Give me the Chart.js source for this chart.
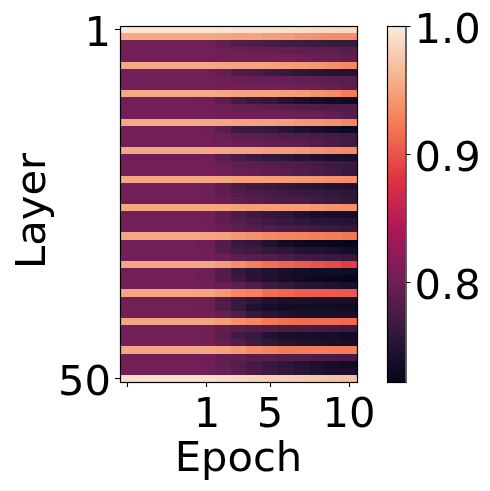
<!DOCTYPE html>
<html>
<head>
<meta charset="utf-8">
<style>
  html, body { margin: 0; padding: 0; background: #fff; }
  canvas { position: absolute; left: 0; top: 0; }
</style>
<script src="https://cdn.jsdelivr.net/npm/chart.js@4"></script>
</head>
<body>
<canvas id="heat" width="490" height="491"></canvas>
<canvas id="bar" width="490" height="491"></canvas>
<script>
const layerLabels = ["1", "50"];
const layerTickRows = [0, 49];
const epochLabels = ["", "1", "5", "10"];
const epochTickCols = [0, 5, 9, 14];
const colorbarTicks = [0.8, 0.9, 1.0];
const colorMin = 0.722;
const colorMax = 1.0;

// one row per layer, one value per column
const heatValues = [
  [.997,.997,.997,.997,.997,.997,.996,.995,.995,.993,.992,.990,.989,.988,.987],
  [.953,.953,.953,.953,.953,.953,.952,.948,.950,.947,.945,.940,.938,.936,.935],
  [.803,.803,.803,.803,.803,.803,.793,.782,.780,.775,.772,.770,.767,.765,.765],
  [.803,.803,.803,.803,.803,.803,.800,.797,.795,.795,.793,.792,.790,.788,.785],
  [.803,.803,.803,.804,.804,.804,.804,.803,.803,.803,.802,.800,.798,.795,.790],
  [.953,.953,.953,.953,.953,.953,.952,.950,.950,.948,.947,.945,.942,.938,.932],
  [.803,.803,.803,.803,.803,.803,.793,.780,.775,.770,.762,.755,.752,.750,.748],
  [.803,.803,.803,.803,.803,.803,.800,.797,.796,.795,.793,.792,.790,.788,.785],
  [.803,.803,.803,.804,.804,.804,.804,.805,.803,.802,.802,.800,.797,.793,.787],
  [.953,.953,.953,.953,.953,.953,.952,.950,.950,.948,.946,.944,.940,.935,.925],
  [.803,.803,.803,.803,.803,.800,.787,.772,.765,.760,.750,.742,.738,.735,.733],
  [.803,.803,.803,.803,.803,.803,.799,.795,.793,.790,.788,.785,.783,.781,.780],
  [.804,.804,.804,.804,.804,.804,.804,.804,.804,.802,.800,.797,.795,.790,.785],
  [.953,.953,.953,.953,.953,.953,.952,.950,.949,.948,.946,.943,.941,.938,.932],
  [.803,.803,.803,.803,.803,.800,.787,.767,.765,.760,.752,.745,.740,.733,.730],
  [.803,.803,.803,.803,.803,.803,.797,.791,.788,.785,.782,.780,.776,.773,.770],
  [.804,.804,.804,.804,.804,.804,.801,.797,.795,.792,.790,.787,.783,.776,.770],
  [.952,.952,.952,.952,.952,.952,.951,.949,.948,.946,.945,.943,.940,.936,.933],
  [.802,.802,.802,.802,.802,.800,.787,.774,.766,.760,.755,.750,.745,.742,.740],
  [.802,.802,.802,.802,.802,.802,.797,.790,.787,.784,.780,.777,.773,.768,.765],
  [.804,.804,.804,.804,.804,.804,.801,.796,.793,.789,.785,.780,.775,.770,.762],
  [.952,.952,.952,.952,.952,.952,.951,.948,.947,.946,.945,.943,.941,.938,.935],
  [.802,.802,.802,.802,.802,.800,.788,.776,.770,.765,.760,.755,.751,.748,.745],
  [.802,.802,.802,.802,.802,.801,.791,.782,.778,.773,.770,.766,.763,.758,.755],
  [.803,.803,.803,.803,.803,.803,.798,.790,.785,.780,.778,.775,.770,.766,.760],
  [.952,.952,.952,.952,.952,.952,.951,.948,.947,.946,.945,.944,.942,.940,.938],
  [.802,.802,.802,.802,.802,.801,.788,.776,.768,.760,.755,.745,.740,.738,.735],
  [.802,.802,.802,.802,.802,.801,.790,.782,.775,.768,.762,.757,.754,.752,.750],
  [.803,.803,.803,.803,.803,.803,.798,.790,.785,.780,.776,.772,.768,.764,.760],
  [.952,.952,.952,.952,.952,.951,.948,.942,.937,.933,.930,.928,.926,.925,.920],
  [.802,.802,.802,.802,.802,.799,.783,.762,.758,.745,.735,.730,.727,.725,.723],
  [.802,.802,.802,.802,.802,.800,.786,.772,.768,.760,.755,.748,.745,.741,.738],
  [.803,.803,.803,.803,.803,.803,.797,.790,.785,.780,.775,.770,.768,.765,.760],
  [.951,.951,.951,.951,.951,.951,.945,.935,.927,.918,.910,.905,.900,.895,.885],
  [.802,.802,.802,.802,.802,.799,.783,.760,.752,.745,.740,.736,.735,.735,.734],
  [.802,.802,.802,.802,.802,.799,.782,.768,.752,.745,.738,.733,.730,.727,.724],
  [.803,.803,.803,.803,.803,.802,.796,.790,.780,.768,.760,.752,.750,.745,.741],
  [.951,.951,.951,.951,.951,.950,.943,.932,.928,.916,.911,.907,.905,.904,.903],
  [.802,.802,.802,.802,.802,.799,.780,.763,.756,.745,.741,.741,.740,.740,.739],
  [.802,.802,.802,.802,.802,.799,.780,.762,.747,.739,.735,.733,.733,.733,.732],
  [.803,.803,.803,.803,.803,.802,.794,.782,.762,.752,.746,.742,.741,.741,.740],
  [.951,.951,.951,.951,.951,.951,.947,.937,.932,.922,.917,.915,.915,.915,.913],
  [.802,.802,.802,.802,.802,.800,.790,.785,.782,.780,.778,.776,.774,.771,.768],
  [.802,.802,.802,.802,.802,.800,.788,.770,.762,.748,.742,.739,.738,.737,.733],
  [.803,.803,.803,.803,.803,.802,.793,.782,.767,.757,.750,.745,.741,.740,.738],
  [.951,.951,.951,.951,.951,.951,.948,.943,.936,.931,.926,.925,.925,.925,.924],
  [.802,.802,.802,.802,.802,.801,.794,.790,.786,.785,.783,.780,.776,.775,.774],
  [.802,.802,.802,.802,.802,.801,.792,.782,.772,.762,.756,.750,.744,.738,.733],
  [.803,.803,.803,.803,.803,.802,.795,.787,.776,.766,.760,.751,.746,.741,.740],
  [.992,.992,.992,.992,.991,.991,.988,.985,.983,.980,.978,.976,.974,.972,.969]
];

// rocket colormap, sampled every 1/7
const rocketStops = ["#03051a", "#35193e", "#701f57", "#ad1759", "#e13342", "#f37651", "#f6b48f", "#faebdd"];

function hexToRgb(hex) {
    return [1, 3, 5].map(i => parseInt(hex.slice(i, i + 2), 16));
}
function rocketColor(frac) {
    const f = Math.min(Math.max(frac, 0), 1) * (rocketStops.length - 1);
    const i = Math.min(Math.floor(f), rocketStops.length - 2);
    const a = hexToRgb(rocketStops[i]);
    const b = hexToRgb(rocketStops[i + 1]);
    const c = a.map((v, k) => Math.round(v + (b[k] - v) * (f - i)));
    return `rgb(${c[0]},${c[1]},${c[2]})`;
}
function valueColor(value) {
    return rocketColor((value - colorMin) / (colorMax - colorMin));
}

const FONT = "'DejaVu Sans'";
const FONT_SIZE = 41.67;

const framePlugin = {
    id: "frame",
    afterDatasetsDraw(chart) {
        const { left, top, width, height } = chart.chartArea;
        const ctx = chart.ctx;
        ctx.save();
        ctx.strokeStyle = "#000";
        ctx.lineWidth = 1.2;
        ctx.strokeRect(left + 0.5, top + 0.5, width, height);
        ctx.restore();
    }
};

// snap cells to whole pixels so the rows have no soft seams between them
const snapPlugin = {
    id: "snap",
    afterDatasetsUpdate(chart) {
        chart.data.datasets.forEach((_, i) => {
            chart.getDatasetMeta(i).data.forEach(bar => {
                const top = Math.round(bar.y - bar.height / 2);
                const bottom = Math.round(bar.y + bar.height / 2);
                bar.y = (top + bottom) / 2;
                bar.height = bottom - top;
                bar.x = Math.round(bar.x);
                bar.base = Math.round(bar.base);
            });
        });
    }
};

function axisLook() {
    return {
        border: { display: false },
        grid: { offset: false, drawOnChartArea: false, drawTicks: true, tickLength: 5, tickWidth: 1.1, tickColor: "#000" }
    };
}
function dropPadding(axis) {
    axis.paddingTop = axis.paddingBottom = axis.paddingLeft = axis.paddingRight = 0;
}

const rowNames = heatValues.map((row, i) => String(i + 1));
const heatDatasets = heatValues[0].map((_, col) => ({
    data: heatValues.map(() => [col - 0.5, col + 0.5]),
    backgroundColor: heatValues.map(row => valueColor(row[col])),
    barPercentage: 1,
    categoryPercentage: 1,
    inflateAmount: 0,
    grouped: false
}));

new Chart(document.getElementById("heat"), {
    type: "bar",
    data: { labels: rowNames, datasets: heatDatasets },
    plugins: [snapPlugin, framePlugin],
    options: {
        indexAxis: "y",
        responsive: false,
        animation: false,
        layout: { padding: { left: 0, top: 26, right: 133, bottom: 0 } },
        plugins: { legend: { display: false }, tooltip: { enabled: false } },
        scales: {
            x: {
                ...axisLook(),
                type: "linear",
                min: -0.5,
                max: 14.5,
                afterBuildTicks(axis) { axis.ticks = epochTickCols.map(value => ({ value })); },
                afterFit(axis) { axis.height = 109; dropPadding(axis); },
                ticks: {
                    autoSkip: false, maxRotation: 0, minRotation: 0, padding: 4,
                    color: "#000", font: { family: FONT, size: FONT_SIZE },
                    callback: (value, index) => epochLabels[index]
                },
                title: { display: true, text: "Epoch", color: "#000", font: { family: FONT, size: FONT_SIZE }, padding: { top: 0, bottom: 6 } }
            },
            y: {
                ...axisLook(),
                type: "category",
                afterBuildTicks(axis) { axis.ticks = layerTickRows.map(value => ({ value })); },
                afterFit(axis) { axis.width = 120; dropPadding(axis); },
                ticks: {
                    autoSkip: false, padding: 4, labelOffset: 6,
                    color: "#000", font: { family: FONT, size: FONT_SIZE },
                    callback: (value, index) => layerLabels[index]
                },
                title: { display: true, text: "Layer\u2004", color: "#000", font: { family: FONT, size: FONT_SIZE }, padding: { top: 9, bottom: 0 } }
            }
        }
    }
});

function colorbarGradient(context) {
    const area = context.chart.chartArea;
    if (!area) return "#000";
    const g = context.chart.ctx.createLinearGradient(0, area.bottom, 0, area.top);
    rocketStops.forEach((stop, i) => g.addColorStop(i / (rocketStops.length - 1), stop));
    return g;
}

new Chart(document.getElementById("bar"), {
    type: "bar",
    data: {
        labels: ["colorbar"],
        datasets: [{
            data: [[colorMin, colorMax]],
            backgroundColor: colorbarGradient,
            barPercentage: 1,
            categoryPercentage: 1,
            inflateAmount: 0
        }]
    },
    plugins: [framePlugin],
    options: {
        responsive: false,
        animation: false,
        layout: { padding: { left: 387, top: 26, right: 0, bottom: 109 } },
        plugins: { legend: { display: false }, tooltip: { enabled: false } },
        scales: {
            x: { display: false },
            y: {
                ...axisLook(),
                position: "right",
                min: colorMin,
                max: colorMax,
                afterBuildTicks(axis) { axis.ticks = colorbarTicks.map(value => ({ value })); },
                afterFit(axis) { axis.width = 84.5; dropPadding(axis); },
                ticks: {
                    autoSkip: false, padding: 4, labelOffset: 6,
                    color: "#000", font: { family: FONT, size: FONT_SIZE },
                    callback: value => value.toFixed(1)
                }
            }
        }
    }
});
</script>
</body>
</html>
